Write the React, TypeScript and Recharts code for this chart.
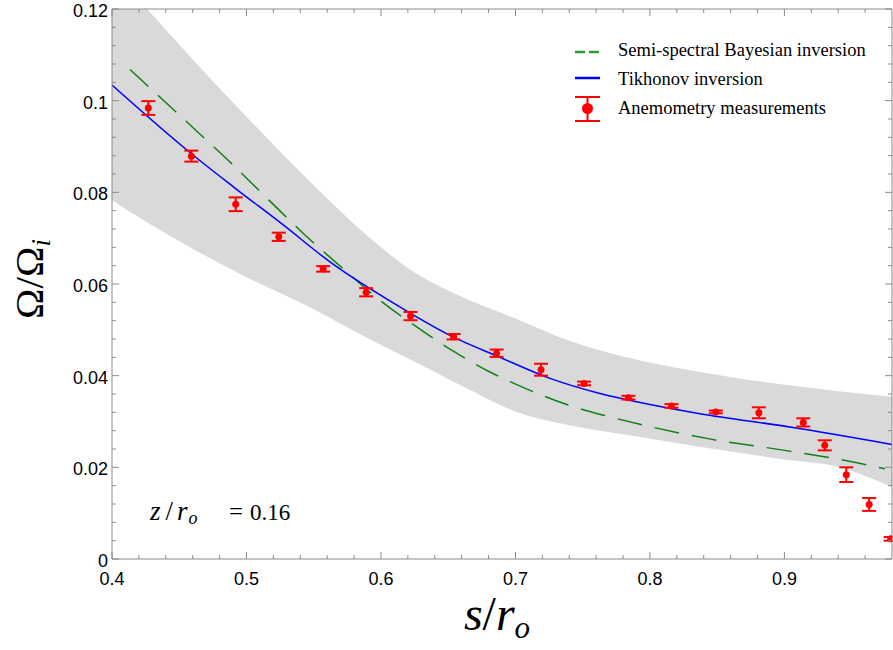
import { ComposedChart, Area, Line, Scatter, ErrorBar, XAxis, YAxis } from 'recharts';

// grey uncertainty band
const bandS = [0.4, 0.426, 0.46, 0.5, 0.55, 0.59, 0.62, 0.66, 0.7, 0.74, 0.78, 0.83, 0.9, 0.94, 0.98];
const bandLow = [0.0783, 0.0735, 0.0677, 0.0615, 0.0545, 0.0482, 0.0438, 0.0378, 0.0322, 0.0292, 0.0272, 0.0248, 0.0217, 0.0201, 0.0157];
const bandHigh = [0.128, 0.12, 0.109, 0.0965, 0.0815, 0.0705, 0.0635, 0.0572, 0.0525, 0.0476, 0.0442, 0.0412, 0.038, 0.0366, 0.0354];

// Tikhonov inversion
const tikhonovS = [0.4, 0.4595, 0.4907, 0.5264, 0.5636, 0.6141, 0.6513, 0.6885, 0.7257, 0.7628, 0.8, 0.8372, 0.9041, 0.98];
const tikhonovV = [0.1034, 0.0883, 0.0811, 0.0731, 0.0645, 0.055, 0.0488, 0.044, 0.0394, 0.0361, 0.0337, 0.0317, 0.0288, 0.025];

// semi-spectral Bayesian inversion
const bayesS = [0.4134, 0.4595, 0.4892, 0.5167, 0.5435, 0.5732, 0.5985, 0.6268, 0.6535, 0.681, 0.7108, 0.7383, 0.7651, 0.7926, 0.8461, 0.9004, 0.9539, 0.9747];
const bayesV = [0.1068, 0.0943, 0.0862, 0.0783, 0.0707, 0.063, 0.0566, 0.0506, 0.0454, 0.0408, 0.0368, 0.0337, 0.0314, 0.0294, 0.0261, 0.0237, 0.021, 0.0197];

// anemometry measurements
const anemoS = [0.427, 0.459, 0.492, 0.524, 0.557, 0.589, 0.622, 0.654, 0.686, 0.719, 0.751, 0.784, 0.816, 0.849, 0.881, 0.914, 0.93, 0.946, 0.963, 0.979];
const anemoV = [0.0984, 0.0879, 0.0774, 0.0703, 0.0633, 0.0582, 0.053, 0.0485, 0.0449, 0.0413, 0.0383, 0.0352, 0.0334, 0.0321, 0.0319, 0.0298, 0.0248, 0.0184, 0.0119, 0.0044];
const anemoErr = [0.0015, 0.0012, 0.0015, 0.0009, 0.0006, 0.0009, 0.0009, 0.0006, 0.0008, 0.0013, 0.0004, 0.0004, 0.0004, 0.0003, 0.0012, 0.0009, 0.0011, 0.0016, 0.0014, 0.0004];

const xMajorTicks = [0.4, 0.5, 0.6, 0.7, 0.8, 0.9];
const xMinorTicks = [0.42, 0.44, 0.46, 0.48, 0.52, 0.54, 0.56, 0.58, 0.62, 0.64, 0.66, 0.68, 0.72, 0.74, 0.76, 0.78, 0.82, 0.84, 0.86, 0.88, 0.92, 0.94, 0.96];
const yMajorTicks = [0, 0.02, 0.04, 0.06, 0.08, 0.1, 0.12];
const yMinorTicks = Array.from({ length: 31 }, (_, i) => Math.round(i * 4) / 1000).filter(
  (v) => !yMajorTicks.some((m) => Math.abs(m - v) < 1e-9)
);

const bandData = bandS.map((s, i) => ({ s, range: [bandLow[i], bandHigh[i]] }));
const tikhonovData = tikhonovS.map((s, i) => ({ s, v: tikhonovV[i] }));
const bayesData = bayesS.map((s, i) => ({ s, v: bayesV[i] }));
const anemoData = anemoS.map((s, i) => ({ s, v: anemoV[i], err: anemoErr[i] }));

const AXIS_COLOR = '#8a8a8a';
const TICK_FONT = '"Liberation Sans", Arial, sans-serif';
const SERIF = '"Liberation Serif", "Times New Roman", serif';

type Side = 'bottom' | 'top' | 'left' | 'right';

function axisTick(side: Side, majors: number[], labels: boolean) {
  return function TickMark(props: any) {
    const { x, y, payload } = props;
    const v = payload.value as number;
    const major = majors.some((m) => Math.abs(m - v) < 1e-9);
    const len = major ? 7 : 4;
    let x2 = x;
    let y2 = y;
    if (side === 'bottom') y2 = y - len;
    if (side === 'top') y2 = y + len;
    if (side === 'left') x2 = x + len;
    if (side === 'right') x2 = x - len;
    return (
      <g>
        <line x1={x} y1={y} x2={x2} y2={y2} stroke={AXIS_COLOR} strokeWidth={1} />
        {labels && major && side === 'bottom' && (
          <text x={x} y={y + 26} textAnchor="middle" fontSize={18} fontFamily={TICK_FONT} fill="#000">
            {String(v)}
          </text>
        )}
        {labels && major && side === 'left' && (
          <text x={x - 4} y={y + 8} textAnchor="end" fontSize={18} fontFamily={TICK_FONT} fill="#000">
            {String(v)}
          </text>
        )}
      </g>
    );
  };
}

const xTicks = [...xMajorTicks, ...xMinorTicks].sort((a, b) => a - b);
const yTicks = [...yMajorTicks, ...yMinorTicks].sort((a, b) => a - b);

function ErrorDot(props: any) {
  const { cx, cy } = props;
  return <circle cx={cx} cy={cy} r={3.5} fill="#ff0000" />;
}

function Legend() {
  return (
    <svg width={325} height={90} style={{ position: 'absolute', left: 568, top: 38 }}>
      <line x1={7} y1={14} x2={32} y2={14} stroke="#2e9b2e" strokeWidth={2.5} strokeDasharray="10 4" />
      <text x={50} y={18} fontSize={18.5} fontFamily={SERIF}>Semi-spectral Bayesian inversion</text>
      <line x1={7} y1={40} x2={32} y2={40} stroke="#0000ff" strokeWidth={2.5} />
      <text x={50} y={47} fontSize={18.5} fontFamily={SERIF}>Tikhonov inversion</text>
      <line x1={7} y1={59} x2={32} y2={59} stroke="#ff0000" strokeWidth={2} />
      <line x1={7} y1={83} x2={32} y2={83} stroke="#ff0000" strokeWidth={2} />
      <line x1={19.5} y1={59} x2={19.5} y2={83} stroke="#ff0000" strokeWidth={2} />
      <circle cx={19.5} cy={70.5} r={5.5} fill="#ff0000" />
      <text x={50} y={76} fontSize={18.5} fontFamily={SERIF}>Anemometry measurements</text>
    </svg>
  );
}

export default function App() {
  return (
    <div style={{ position: 'absolute', left: 0, top: 0, width: 893, height: 650 }}>
      <ComposedChart width={893} height={650} margin={{ top: 8, right: 0, bottom: 0, left: 8 }}>
        <XAxis
          xAxisId="b"
          type="number"
          dataKey="s"
          domain={[0.4, 0.98]}
          allowDataOverflow
          ticks={xTicks}
          interval={0}
          height={91}
          tickSize={0}
          tickMargin={0}
          tickLine={false}
          axisLine={{ stroke: AXIS_COLOR }}
          tick={axisTick('bottom', xMajorTicks, true)}
        />
        <XAxis
          xAxisId="t"
          orientation="top"
          type="number"
          dataKey="s"
          domain={[0.4, 0.98]}
          allowDataOverflow
          ticks={xTicks}
          interval={0}
          height={1}
          tickSize={0}
          tickMargin={0}
          tickLine={false}
          axisLine={{ stroke: AXIS_COLOR }}
          tick={axisTick('top', xMajorTicks, false)}
        />
        <YAxis
          yAxisId="l"
          type="number"
          dataKey="v"
          domain={[0, 0.12]}
          allowDataOverflow
          ticks={yTicks}
          interval={0}
          width={104}
          tickSize={0}
          tickMargin={0}
          tickLine={false}
          axisLine={{ stroke: AXIS_COLOR }}
          tick={axisTick('left', yMajorTicks, true)}
        />
        <YAxis
          yAxisId="r"
          orientation="right"
          type="number"
          dataKey="v"
          domain={[0, 0.12]}
          allowDataOverflow
          ticks={yTicks}
          interval={0}
          width={1}
          tickSize={0}
          tickMargin={0}
          tickLine={false}
          axisLine={{ stroke: AXIS_COLOR }}
          tick={axisTick('right', yMajorTicks, false)}
        />
        <Area
          xAxisId="b"
          yAxisId="l"
          data={bandData}
          dataKey="range"
          type="monotone"
          stroke="none"
          fill="#d9d9d9"
          fillOpacity={1}
          isAnimationActive={false}
        />
        <Line
          xAxisId="b"
          yAxisId="l"
          data={bayesData}
          dataKey="v"
          type="monotone"
          stroke="#118011"
          strokeWidth={1.5}
          strokeDasharray="25 13"
          dot={false}
          isAnimationActive={false}
        />
        <Line
          xAxisId="b"
          yAxisId="l"
          data={tikhonovData}
          dataKey="v"
          type="monotone"
          stroke="#0000ff"
          strokeWidth={1.5}
          dot={false}
          isAnimationActive={false}
        />
        <Scatter
          xAxisId="b"
          yAxisId="l"
          data={anemoData}
          dataKey="v"
          fill="#ff0000"
          shape={ErrorDot}
          isAnimationActive={false}
        >
          <ErrorBar dataKey="err" direction="y" width={7} stroke="#ff0000" strokeWidth={2} />
        </Scatter>
      </ComposedChart>
      <Legend />
      <svg width={893} height={650} style={{ position: 'absolute', left: 0, top: 0, pointerEvents: 'none' }}>
        <text
          x={43}
          y={279}
          transform="rotate(-90 43 279)"
          textAnchor="middle"
          fontSize={41}
          fontFamily={SERIF}
        >
          Ω/Ω<tspan fontStyle="italic" fontSize={27} dy={7}>i</tspan>
        </text>
        <text x={497} y={630} textAnchor="middle" fontSize={48} fontFamily={SERIF}>
          <tspan fontStyle="italic">s</tspan>/<tspan fontStyle="italic">r</tspan>
          <tspan fontStyle="italic" fontSize={31} dy={8}>o</tspan>
        </text>
        <text x={150} y={520} fontSize={27} fontFamily={SERIF}>
          <tspan fontStyle="italic">z</tspan>
          <tspan dx={5}>/</tspan>
          <tspan fontStyle="italic" dx={4}>r</tspan>
          <tspan fontStyle="italic" fontSize={18} dx={1} dy={4}>o</tspan>
          <tspan dy={-4} x={229} fontSize={25}>=</tspan>
          <tspan x={250} fontSize={23}>0.16</tspan>
        </text>
      </svg>
    </div>
  );
}
